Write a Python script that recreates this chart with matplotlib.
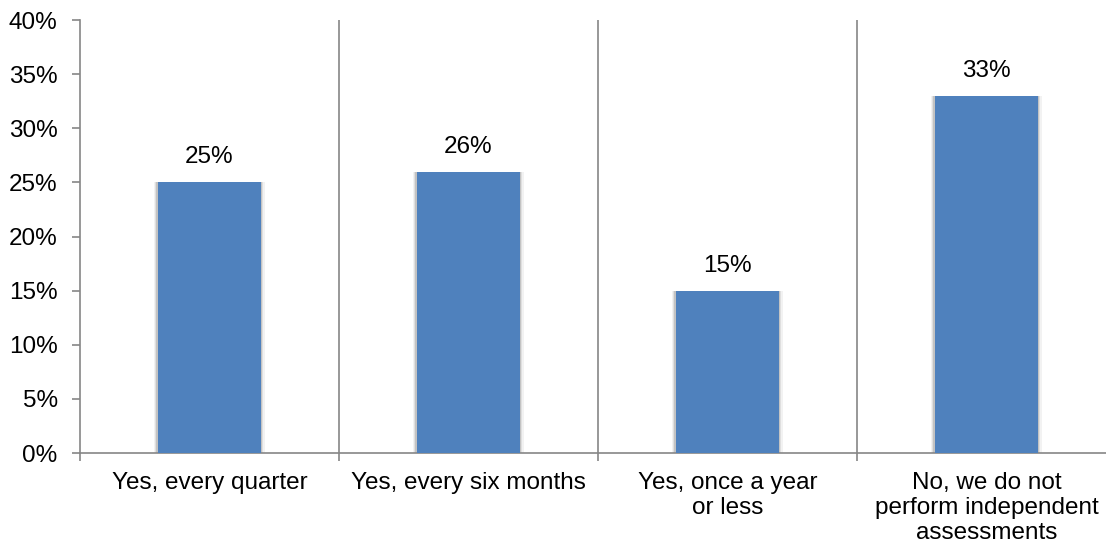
import matplotlib
matplotlib.use("Agg")
import matplotlib.pyplot as plt
from matplotlib.ticker import FixedLocator, FuncFormatter

# survey answers and share of respondents (%)
categories = [
    "Yes, every quarter",
    "Yes, every six months",
    "Yes, once a year\nor less",
    "No, we do not\nperform independent\nassessments",
]
shares = [25, 26, 15, 33]
y_ticks = [0, 5, 10, 15, 20, 25, 30, 35, 40]

plt.rcParams['font.family'] = ['Liberation Sans', 'DejaVu Sans']
FS = 17.5

fig = plt.figure(figsize=(11.06, 5.46), dpi=100)
ax = fig.add_axes([0.0723, 0.1703, 0.9367, 0.793])

x = list(range(len(categories)))
bar_color = '#4F81BD'
grid_color = '#868686'
width = 0.4

# soft shadow behind each bar
for grow, alpha in [(0.026, 0.05), (0.017, 0.08), (0.009, 0.12)]:
    ax.bar(x, [s + grow * 12 for s in shares], width=width + grow,
           bottom=-grow * 12, color='#000000', alpha=alpha, linewidth=0, zorder=2)

ax.bar(x, shares, width=width, color=bar_color, linewidth=0, zorder=3)

for xi, s in zip(x, shares):
    ax.text(xi, s + 1.75, f"{s}%", ha='center', va='baseline', fontsize=FS, zorder=4)

ax.set_xlim(-0.5, len(categories) - 0.5)
ax.set_ylim(0, 40)

# vertical separators between answer groups
for b in range(1, len(categories)):
    ax.axvline(b - 0.5, color=grid_color, linewidth=1.2, zorder=1)

ax.yaxis.set_major_locator(FixedLocator(y_ticks))
ax.yaxis.set_major_formatter(FuncFormatter(lambda v, p: f"{int(v)}%"))
ax.set_xticks(x)
ax.set_xticklabels(categories, fontsize=FS, linespacing=1.15)
ax.set_xticks([b - 0.5 for b in range(len(categories) + 1)], minor=True)

ax.tick_params(axis='y', labelsize=FS, length=6, width=1.2, color=grid_color, pad=10)
ax.tick_params(axis='x', which='major', length=0, pad=14)
ax.tick_params(axis='x', which='minor', length=6, width=1.2, color=grid_color)

for side in ['top', 'right']:
    ax.spines[side].set_visible(False)
for side in ['left', 'bottom']:
    ax.spines[side].set_color(grid_color)
    ax.spines[side].set_linewidth(1.2)

fig.savefig("out.png", dpi=100)
